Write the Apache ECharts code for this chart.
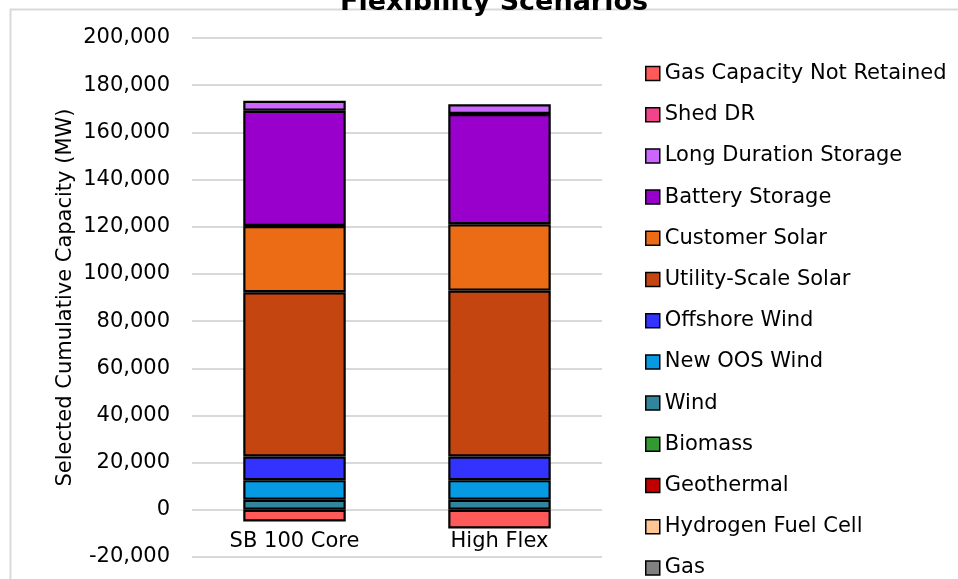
<!DOCTYPE html>
<html>
<head>
<meta charset="utf-8">
<script src="https://cdn.jsdelivr.net/npm/echarts@6/dist/echarts.min.js"></script>
<style>html,body{margin:0;padding:0;background:#fff;}#c{width:958px;height:579px;}</style>
</head>
<body>
<div id="c"></div>
<script>
var categories = ['SB 100 Core', 'High Flex'];
var seriesNames = ['Gas', 'Hydrogen Fuel Cell', 'Geothermal', 'Biomass', 'Wind', 'New OOS Wind', 'Offshore Wind', 'Utility-Scale Solar', 'Customer Solar', 'Battery Storage', 'Long Duration Storage', 'Shed DR', 'Gas Capacity Not Retained'];
var gas = [0, 0];
var hydrogen = [0, 0];
var geothermal = [0, 0];
var biomass = [0, 0];
var wind = [4240, 4240];
var newOOSWind = [8340, 8340];
var offshoreWind = [10000, 10000];
var utilitySolar = [69660, 70340];
var customerSolar = [28090, 28130];
var batteryStorage = [48850, 46740];
var longDurationStorage = [4240, 4110];
var shedDR = [0, 0];
var gasNotRetained = [-4950, -7920];
var yTicks = [-20000, 0, 20000, 40000, 60000, 80000, 100000, 120000, 140000, 160000, 180000, 200000];

var values = [gas, hydrogen, geothermal, biomass, wind, newOOSWind, offshoreWind, utilitySolar, customerSolar, batteryStorage, longDurationStorage, shedDR, gasNotRetained];
var colors = ['#808080', '#FFC595', '#C00000', '#339933', '#31859C', '#069AE2', '#3333FF', '#C54510', '#EC6C16', '#9900CC', '#CC66FF', '#F0458A', '#FF5A5A'];

var FONT = 'DejaVu Sans';
var chart = echarts.init(document.getElementById('c'));
var series = seriesNames.map(function (n, i) {
  return {
    name: n,
    type: 'bar',
    stack: 'total',
    barWidth: '50%',
    data: values[i].map(function (v) {
      return v === 0 ? { value: 0, itemStyle: { borderWidth: 0, opacity: 0 } } : v;
    }),
    itemStyle: { color: colors[i], borderColor: '#000', borderWidth: 2.2 },
    emphasis: { disabled: true }
  };
});

chart.setOption({
  animation: false,
  title: {
    text: 'Flexibility Scenarios',
    left: 489, textAlign: 'center', top: -16,
    textStyle: { fontFamily: FONT, fontSize: 27, fontWeight: 'bold', color: '#000' }
  },
  graphic: [{
    type: 'rect', silent: true, z: -1,
    shape: { x: 10.5, y: 9.5, width: 1200, height: 1200 },
    style: { fill: 'none', stroke: '#D9D9D9', lineWidth: 2 }
  }],
  legend: {
    orient: 'vertical',
    left: 645, top: 63, padding: 0,
    itemWidth: 14, itemHeight: 14, itemGap: 20.2,
    icon: 'rect',
    data: seriesNames.slice().reverse(),
    textStyle: { fontFamily: FONT, fontSize: 21, lineHeight: 21, color: '#000' },
    itemStyle: { borderColor: '#000', borderWidth: 1.5, opacity: 1 }
  },
  grid: { left: 192, right: 356, top: 38, bottom: 22, containLabel: false, outerBoundsMode: 'none' },
  xAxis: {
    type: 'category',
    data: categories,
    axisLine: { show: false },
    axisTick: { show: false },
    axisLabel: { fontFamily: FONT, fontSize: 21, color: '#000', margin: -26 }
  },
  yAxis: {
    type: 'value',
    min: yTicks[0], max: yTicks[yTicks.length - 1], interval: 20000,
    name: 'Selected Cumulative Capacity (MW)',
    nameLocation: 'middle', nameGap: 116,
    nameTextStyle: { fontFamily: FONT, fontSize: 21, color: '#000' },
    axisLine: { show: false },
    axisTick: { show: false },
    axisLabel: {
      fontFamily: FONT, fontSize: 21, color: '#000', margin: 22,
      formatter: function (v) { return v.toLocaleString('en-US'); }
    },
    splitLine: { lineStyle: { color: '#D9D9D9', width: 2 } }
  },
  series: series
});
</script>
</body>
</html>
